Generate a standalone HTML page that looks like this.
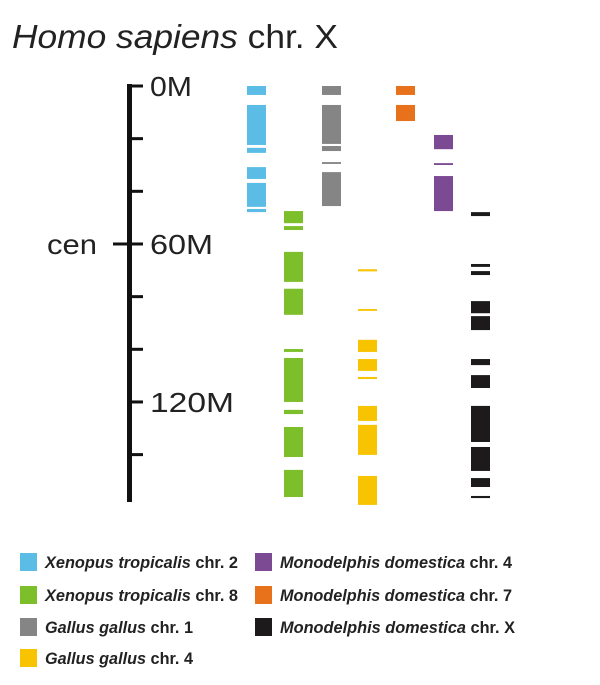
<!DOCTYPE html>
<html><head><meta charset="utf-8"><style>
body{margin:0;background:#fff;}
svg{display:block;font-family:"Liberation Sans",sans-serif;}
</style></head><body>
<svg width="600" height="685" viewBox="0 0 600 685" id="chart">
<text x="12" y="48" font-size="33" fill="#222" textLength="326" lengthAdjust="spacingAndGlyphs"><tspan font-style="italic">Homo sapiens</tspan> chr. X</text>
<g id="axis"></g>
<g id="cols"></g>
<g id="legend"></g>
</svg>
<script>
const tickValues=[0,20,40,60,80,100,120,140];
const tickLabels={0:"0M",60:"60M",120:"120M"};
const axisMax=158;
const centromere=60;
const seriesNames=["Xenopus tropicalis chr. 2","Xenopus tropicalis chr. 8","Gallus gallus chr. 1","Gallus gallus chr. 4","Monodelphis domestica chr. 4","Monodelphis domestica chr. 7","Monodelphis domestica chr. X"];
const xt2=[[0,3.4],[7.2,22.4],[23.5,25.4],[30.8,35.3],[36.8,45.9],[46.7,47.9]];
const xt8=[[47.5,52.1],[53.2,54.7],[63,74.4],[77,86.9],[99.9,101],[103.3,120],[123,124.6],[129.5,140.9],[145.8,156.1]];
const gg1=[[0,3.4],[7.2,22],[22.8,24.7],[28.9,29.6],[32.7,45.6]];
const gg4=[[69.6,70.4],[84.7,85.4],[96.4,101],[103.7,108.2],[110.5,111.3],[121.5,127.2],[128.7,140.1],[148.1,159.1]];
const md4=[[18.6,24],[29.3,30],[34.2,47.5]];
const md7=[[0,3.4],[7.2,13.3]];
const mdX=[[47.9,49.4],[67.6,68.7],[70.3,71.8],[81.7,86.3],[87.4,92.7],[103.7,106],[109.8,114.7],[121.5,135.2],[137.1,146.2],[148.9,152.3],[155.7,156.5]];

const NS="http://www.w3.org/2000/svg";
const y0=86, pxPerM=2.633;
const yScale=v=>y0+v*pxPerM;
function mk(tag,attrs,parent){const e=document.createElementNS(NS,tag);for(const k in attrs)e.setAttribute(k,attrs[k]);parent.appendChild(e);return e;}
const axis=document.getElementById('axis');
const spine=mk('rect',{x:127,y:yScale(0)-2,width:5,height:yScale(axisMax)-yScale(0)+2,fill:'#111'},axis);


tickValues.forEach(v=>{
  const t=mk('rect',{x:129,y:yScale(v)-1.5,width:14,height:3,fill:'#111'},axis);
  
  
  if(tickLabels[v]){
    const len=tickLabels[v].length*21;
    const l=mk('text',{x:150,y:yScale(v)+10,'font-size':28,fill:'#222',textLength:len,lengthAdjust:'spacingAndGlyphs'},axis);
    l.textContent=tickLabels[v];
    
    
  }
});
const ct=mk('rect',{x:113,y:yScale(centromere)-1.5,width:16,height:3,fill:'#111'},axis);


const cl=mk('text',{x:47,y:yScale(centromere)+10,'font-size':28,fill:'#222',textLength:50,lengthAdjust:'spacingAndGlyphs'},axis);
cl.textContent='cen';



const cols=[
 {d:xt2,x:247,c:'#5bbde6'},
 {d:xt8,x:284,c:'#7dbf2a'},
 {d:gg1,x:322,c:'#858585'},
 {d:gg4,x:358,c:'#f8c300'},
 {d:md7,x:396,c:'#e8711c'},
 {d:md4,x:434,c:'#7b4a92'},
 {d:mdX,x:471,c:'#1c1a1a'}
];
const cg=document.getElementById('cols');
cols.forEach(col=>{
  col.d.forEach(s=>{
    const h=Math.max(1.5,yScale(s[1])-yScale(s[0]));
    const r=mk('rect',{x:col.x,y:yScale(s[0]),width:19,height:h,fill:col.c},cg);
    
    
  });
});

const lg=document.getElementById('legend');
const legendItems=[
 {n:0,c:'#5bbde6',x:20,y:562,w:193},{n:1,c:'#7dbf2a',x:20,y:595,w:193},{n:2,c:'#858585',x:20,y:627,w:148},{n:3,c:'#f8c300',x:20,y:658,w:148},
 {n:4,c:'#7b4a92',x:255,y:562,w:232},{n:5,c:'#e8711c',x:255,y:595,w:232},{n:6,c:'#1c1a1a',x:255,y:627,w:235}
];
legendItems.forEach(it=>{
  const g=mk('g',{},lg);
  
  
  mk('rect',{x:it.x,y:it.y-9,width:17,height:18,fill:it.c},g);
  const name=seriesNames[it.n];
  const idx=name.indexOf(' chr.');
  const t=mk('text',{x:it.x+25,y:it.y+6,'font-size':16.5,'font-weight':'bold',fill:'#222',textLength:it.w,lengthAdjust:'spacingAndGlyphs'},g);
  const a=mk('tspan',{'font-style':'italic'},t);a.textContent=name.slice(0,idx);
  const b=mk('tspan',{},t);b.textContent=name.slice(idx);
});
</script>
</body></html>
